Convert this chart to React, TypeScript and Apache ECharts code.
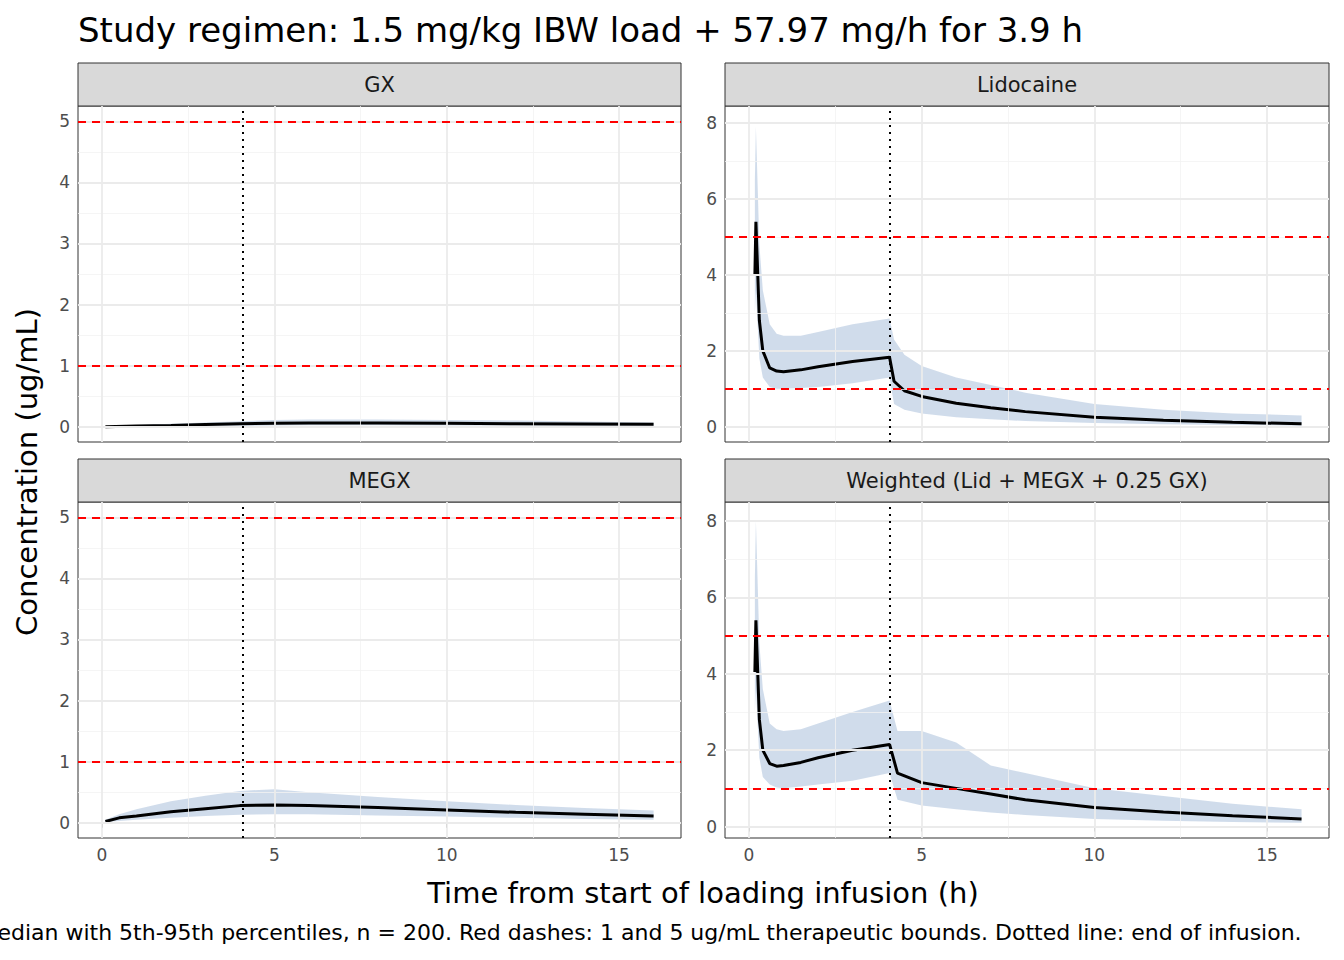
import React, { useEffect, useRef } from "react";
import * as echarts from "echarts";

const END_INF = 4.07;
const BOUNDS = [1, 5];
const PANEL_TITLES = ["GX", "Lidocaine", "MEGX", "Weighted (Lid + MEGX + 0.25 GX)"];

const gxT = [0.1, 1, 2, 3, 4, 5, 6, 7, 8, 10, 12, 14, 16];
const gxMed = [0, 0.01, 0.02, 0.035, 0.05, 0.055, 0.06, 0.06, 0.06, 0.055, 0.05, 0.045, 0.04];
const gxLo = [0, 0, 0.005, 0.01, 0.015, 0.02, 0.025, 0.025, 0.025, 0.022, 0.02, 0.018, 0.015];
const gxHi = [0, 0.03, 0.05, 0.07, 0.09, 0.11, 0.12, 0.12, 0.12, 0.11, 0.1, 0.085, 0.07];

const lidT = [0.17, 0.2, 0.3, 0.4, 0.6, 0.8, 1, 1.5, 2, 3, 4.07, 4.2, 4.5, 5, 6, 7, 8, 10, 12, 14, 16];
const lidMed = [4.0, 5.4, 2.8, 2.0, 1.55, 1.47, 1.45, 1.5, 1.58, 1.72, 1.83, 1.2, 0.95, 0.8, 0.62, 0.5, 0.4, 0.25, 0.17, 0.12, 0.08];
const lidLo = [3.0, 3.6, 1.8, 1.3, 1.05, 1.0, 1.0, 1.02, 1.05, 1.15, 1.3, 0.6, 0.45, 0.35, 0.25, 0.2, 0.15, 0.1, 0.07, 0.05, 0.03];
const lidHi = [6.5, 7.9, 4.8, 3.6, 2.7, 2.45, 2.4, 2.4, 2.5, 2.7, 2.85, 2.3, 1.9, 1.6, 1.3, 1.1, 0.9, 0.6, 0.45, 0.35, 0.3];

const megT = [0.1, 0.5, 1, 2, 3, 4, 5, 6, 8, 10, 12, 14, 16];
const megMed = [0.02, 0.08, 0.11, 0.18, 0.23, 0.28, 0.29, 0.28, 0.25, 0.21, 0.17, 0.14, 0.11];
const megLo = [0.01, 0.03, 0.05, 0.08, 0.11, 0.13, 0.14, 0.14, 0.12, 0.1, 0.08, 0.06, 0.05];
const megHi = [0.05, 0.14, 0.22, 0.35, 0.44, 0.52, 0.55, 0.5, 0.42, 0.35, 0.29, 0.24, 0.2];

const wT = [0.17, 0.2, 0.3, 0.4, 0.6, 0.8, 1, 1.5, 2, 3, 4.07, 4.3, 5, 6, 7, 8, 10, 12, 14, 16];
const wMed = [4.05, 5.4, 2.8, 2.0, 1.65, 1.58, 1.6, 1.68, 1.8, 2.0, 2.15, 1.4, 1.15, 1.0, 0.85, 0.7, 0.5, 0.38, 0.28, 0.2];
const wLo = [3.0, 3.6, 1.8, 1.3, 1.1, 1.02, 1.0, 1.05, 1.1, 1.2, 1.4, 0.7, 0.55, 0.45, 0.37, 0.3, 0.2, 0.15, 0.12, 0.1];
const wHi = [6.5, 8.0, 4.8, 3.6, 2.7, 2.55, 2.5, 2.55, 2.7, 3.0, 3.3, 2.5, 2.5, 2.2, 1.6, 1.4, 1.0, 0.8, 0.6, 0.45];

const PANELS = [
  { t: gxT, med: gxMed, lo: gxLo, hi: gxHi },
  { t: lidT, med: lidMed, lo: lidLo, hi: lidHi },
  { t: megT, med: megMed, lo: megLo, hi: megHi },
  { t: wT, med: wMed, lo: wLo, hi: wHi },
];

export default function App() {
  const ref = useRef<HTMLDivElement>(null);
  useEffect(() => {
    const chart = echarts.init(ref.current!, undefined, { renderer: "svg" });
    const boxes = [
      { left: 78, top: 106, w: 603, h: 336 },
      { left: 725, top: 106, w: 604, h: 336 },
      { left: 78, top: 502, w: 603, h: 336 },
      { left: 725, top: 502, w: 604, h: 336 },
    ];
    const yRanges = [
      { min: -0.25, max: 5.25, small: true },
      { min: -0.4, max: 8.45, small: false },
      { min: -0.25, max: 5.25, small: true },
      { min: -0.3, max: 8.5, small: false },
    ];
    const grid: any[] = [], xAxis: any[] = [], yAxis: any[] = [], series: any[] = [], graphic: any[] = [];
    boxes.forEach((b, i) => {
      const yr = yRanges[i];
      const majX = [0, 5, 10, 15], minX = [2.5, 7.5, 12.5];
      const majY = yr.small ? [0, 1, 2, 3, 4, 5] : [0, 2, 4, 6, 8];
      const minY = yr.small ? [0.5, 1.5, 2.5, 3.5, 4.5] : [1, 3, 5, 7];
      grid.push({ left: b.left, top: b.top, width: b.w, height: b.h, show: true, borderColor: "#333", borderWidth: 1, backgroundColor: "#fff" });
      xAxis.push({
        type: "value", gridIndex: i, min: -0.695, max: 16.795,
        axisLine: { show: false },
        axisTick: { show: i >= 2, length: 5, lineStyle: { color: "#333" }, customValues: majX },
        axisLabel: { show: i >= 2, color: "#4d4d4d", fontSize: 17, margin: 8, customValues: majX },
        splitLine: { show: false },
      });
      yAxis.push({
        type: "value", gridIndex: i, min: yr.min, max: yr.max,
        axisLine: { show: false },
        axisTick: { show: true, length: 5, lineStyle: { color: "#333" }, customValues: majY },
        axisLabel: { color: "#4d4d4d", fontSize: 17, margin: 8, customValues: majY },
        splitLine: { show: false },
      });
      const p = PANELS[i];
      series.push({
        type: "line", xAxisIndex: i, yAxisIndex: i, data: [], silent: true, z: 0,
        markLine: {
          silent: true, symbol: "none", label: { show: false },
          data: [
            ...minX.map((v) => ({ xAxis: v, lineStyle: { color: "#f3f3f3", width: 0.8, type: "solid" } })),
            ...minY.map((v) => ({ yAxis: v, lineStyle: { color: "#f3f3f3", width: 0.8, type: "solid" } })),
            ...majX.map((v) => ({ xAxis: v, lineStyle: { color: "#ebebeb", width: 1.8, type: "solid" } })),
            ...majY.map((v) => ({ yAxis: v, lineStyle: { color: "#ebebeb", width: 1.8, type: "solid" } })),
          ],
        },
      });
      series.push({
        type: "custom", xAxisIndex: i, yAxisIndex: i, z: 1, silent: true,
        data: [[p.t[0], p.lo[0]]],
        renderItem: (_params: any, api: any) => {
          const pts: number[][] = [];
          p.t.forEach((t, k) => pts.push(api.coord([t, p.hi[k]])));
          for (let k = p.t.length - 1; k >= 0; k--) pts.push(api.coord([p.t[k], p.lo[k]]));
          return { type: "polygon", shape: { points: pts }, style: { fill: "rgba(176,196,222,0.6)" } };
        },
      });
      series.push({
        type: "line", xAxisIndex: i, yAxisIndex: i, symbol: "none", z: 3,
        data: p.t.map((t, k) => [t, p.med[k]]), lineStyle: { color: "#000", width: 3 },
        markLine: {
          silent: true, symbol: "none", label: { show: false },
          data: [
            ...BOUNDS.map((v) => ({ yAxis: v, lineStyle: { color: "#ff0000", width: 2, type: [8, 6] } })),
            { xAxis: END_INF, lineStyle: { color: "#000", width: 2, type: [2, 5] } },
          ],
        },
      });
      graphic.push({ type: "rect", shape: { x: b.left, y: b.top - 43, width: b.w, height: 43 }, style: { fill: "#d9d9d9", stroke: "#333", lineWidth: 1 } });
      graphic.push({ type: "text", x: b.left + b.w / 2, y: b.top - 21, style: { text: PANEL_TITLES[i], fontSize: 21, fill: "#1a1a1a", align: "center", verticalAlign: "middle", fontFamily: "DejaVu Sans" } });
    });
    graphic.push({ type: "text", x: 78, y: 30, style: { text: "Study regimen: 1.5 mg/kg IBW load + 57.97 mg/h for 3.9 h", fontSize: 34, fill: "#000", verticalAlign: "middle", fontFamily: "DejaVu Sans" } });
    graphic.push({ type: "text", x: 703, y: 893, style: { text: "Time from start of loading infusion (h)", fontSize: 29, fill: "#000", align: "center", verticalAlign: "middle", fontFamily: "DejaVu Sans" } });
    graphic.push({ type: "text", x: 27, y: 472, rotation: Math.PI / 2, style: { text: "Concentration (ug/mL)", fontSize: 29, fill: "#000", align: "center", verticalAlign: "middle", fontFamily: "DejaVu Sans" } });
    graphic.push({ type: "text", x: 640, y: 932, style: { text: "Median with 5th-95th percentiles, n = 200. Red dashes: 1 and 5 ug/mL therapeutic bounds. Dotted line: end of infusion.", fontSize: 22, fill: "#000", align: "center", verticalAlign: "middle", fontFamily: "DejaVu Sans" } });
    chart.setOption({
      animation: false, backgroundColor: "#fff",
      textStyle: { fontFamily: "DejaVu Sans" },
      grid, xAxis, yAxis, series, graphic,
    });
    return () => chart.dispose();
  }, []);
  return <div ref={ref} style={{ position: "fixed", left: 0, top: 0, width: 1344, height: 960 }} />;
}
